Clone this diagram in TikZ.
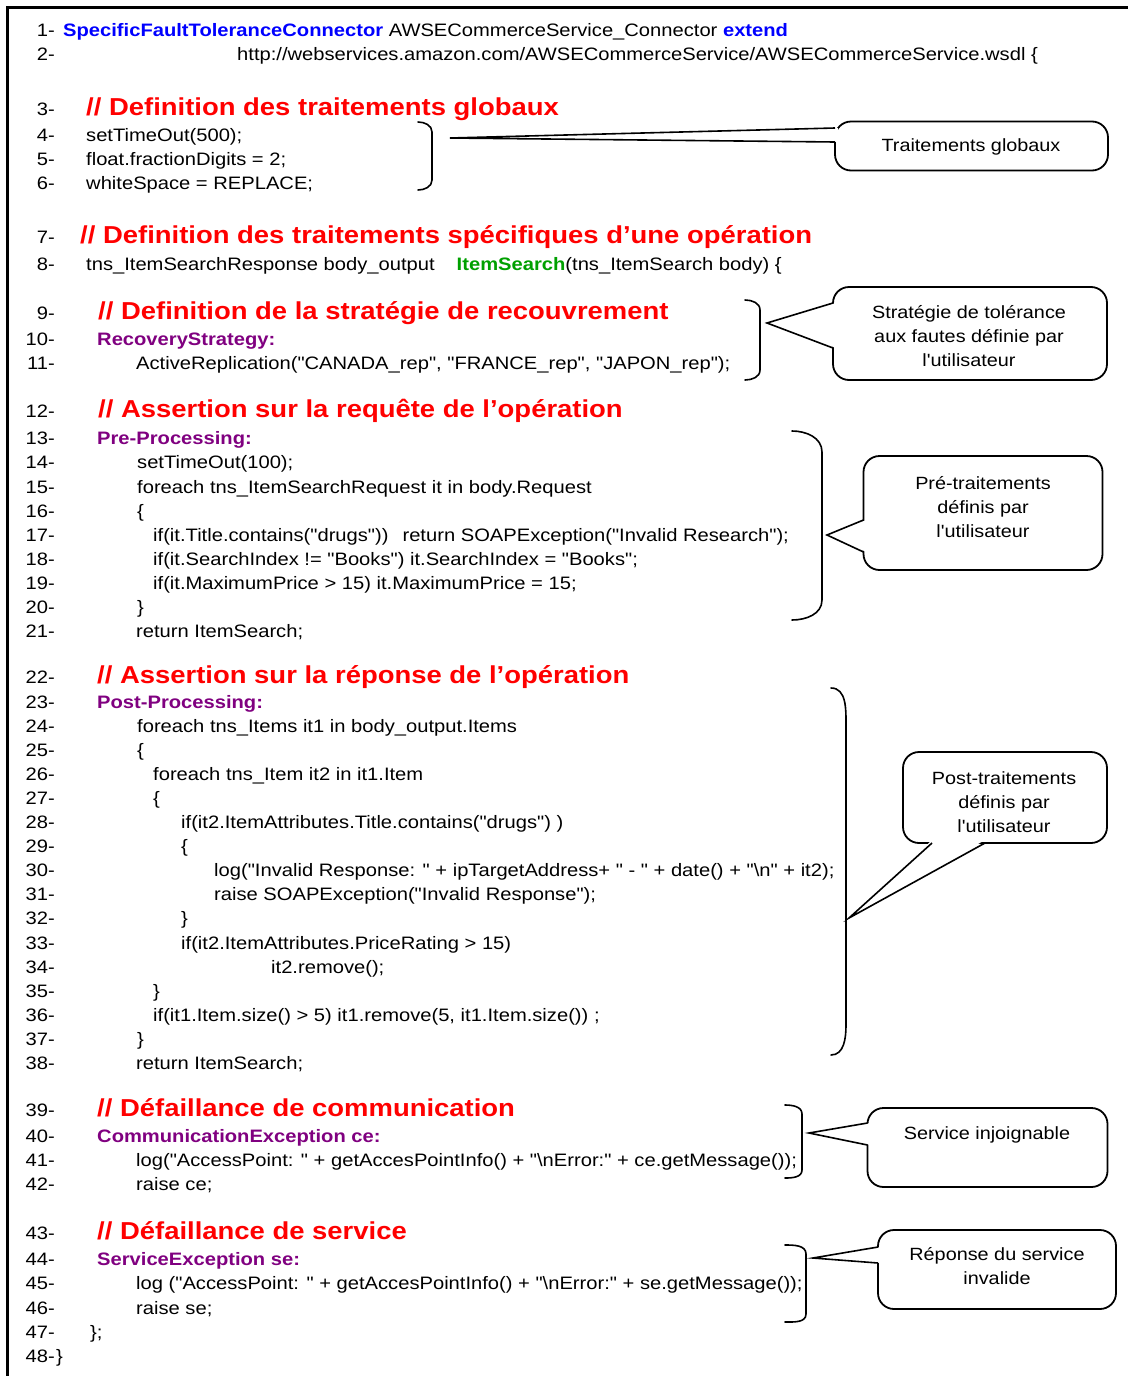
\documentclass[tikz,border=0pt]{standalone}
\usepackage{fontspec}
\setmainfont{Liberation Sans}[FakeStretch=1.12,Ligatures=TeXOff]
\definecolor{kwblue}{RGB}{0,0,255}
\definecolor{hdred}{RGB}{255,0,0}
\definecolor{kwpurple}{RGB}{128,0,128}
\definecolor{kwgreen}{RGB}{0,160,0}
\newcommand\codefont{\fontsize{18}{24}\selectfont}
\newcommand\boxfont{\fontsize{17.7}{24}\selectfont}
\newcommand\headfont{\fontsize{24.5}{30}\selectfont\bfseries}
\newcommand\kw[2]{{\bfseries\color{#1}#2}}
% numbered code line: number, baseline, x, text
\newcommand\cl[4]{\node[num] (n#1) at (55,#2) {#1-};\node[code] (c#1) at (#3,#2) {#4};}
% numbered heading comment
\newcommand\hl[4]{\node[num,yshift=-1pt] (n#1) at (55,#2) {#1-};\node[head] (c#1) at (#3,#2) {#4};}
\begin{document}
\begin{tikzpicture}[x=1pt,y=-1pt,
  num/.style={anchor=base east,inner sep=0pt,font=\codefont,yshift=-1pt},
  code/.style={anchor=base west,inner sep=0pt,font=\codefont,yshift=-1pt},
  head/.style={anchor=base west,inner sep=0pt,font=\headfont,text=hdred,yshift=-2pt},
  brk/.style={line width=1.6pt,line cap=round},
  box/.style={draw,line width=1.8pt,rounded corners=16pt,fill=white,inner sep=0pt},
  wedge/.style={line width=1.6pt,line join=miter},
  ctext/.style={font=\boxfont,align=center,inner sep=0pt}]
\useasboundingbox (0,0) rectangle (1128,1376);
\fill[white] (0,0) rectangle (1128,1376);
% frame
\draw[line width=3pt] (7,1376) -- (7,7) -- (1128,7);

% code listing
\node[num] (n1) at (55,35.3) {1-};
\node[code] (c1) at (63,35.3) {\kw{kwblue}{SpecificFaultToleranceConnector} AWSECommerceService\_Connector \kw{kwblue}{extend}};
\cl{2}{59.3}{237}{http://webservices.amazon.com/AWSECommerceService/AWSECommerceService.wsdl \{}
\hl{3}{113.3}{86}{// Definition des traitements globaux}
\cl{4}{140.3}{86}{setTimeOut(500);}
\cl{5}{164.3}{86}{float.fractionDigits = 2;}
\cl{6}{188.3}{86}{whiteSpace = REPLACE;}
\hl{7}{241.3}{80}{// Definition des traitements spécifiques d’une opération}
\cl{8}{269.3}{86}{tns\_ItemSearchResponse body\_output\hspace{22pt}\kw{kwgreen}{ItemSearch}(tns\_ItemSearch body) \{}
\hl{9}{317.3}{98}{// Definition de la stratégie de recouvrement}
\cl{10}{344.3}{97}{\kw{kwpurple}{RecoveryStrategy:}}
\cl{11}{368.3}{136}{ActiveReplication("CANADA\_rep", "FRANCE\_rep", "JAPON\_rep");}
\hl{12}{415.3}{98}{// Assertion sur la requête de l’opération}
\cl{13}{443.3}{97}{\kw{kwpurple}{Pre-Processing:}}
\cl{14}{467.3}{137}{setTimeOut(100);}
\cl{15}{492.3}{137}{foreach tns\_ItemSearchRequest it in body.Request}
\cl{16}{516.3}{137}{\{}
\cl{17}{540.3}{153}{if(it.Title.contains("drugs"))\hspace{14pt}return SOAPException("Invalid Research");}
\cl{18}{564.3}{153}{if(it.SearchIndex != "Books") it.SearchIndex = "Books";}
\cl{19}{588.3}{153}{if(it.MaximumPrice > 15) it.MaximumPrice = 15;}
\cl{20}{612.3}{137}{\}}
\cl{21}{636.3}{136}{return ItemSearch;}
\hl{22}{681.3}{97}{// Assertion sur la réponse de l’opération}
\cl{23}{707.3}{97}{\kw{kwpurple}{Post-Processing:}}
\cl{24}{731.3}{137}{foreach tns\_Items it1 in body\_output.Items}
\cl{25}{755.3}{137}{\{}
\cl{26}{779.3}{153}{foreach tns\_Item it2 in it1.Item}
\cl{27}{803.3}{153}{\{}
\cl{28}{827.3}{181}{if(it2.ItemAttributes.Title.contains("drugs") )}
\cl{29}{851.3}{181}{\{}
\cl{30}{875.3}{214}{log("Invalid Response: " + ipTargetAddress+ " - " + date() + "\textbackslash n" + it2);}
\cl{31}{899.3}{214}{raise SOAPException("Invalid Response");}
\cl{32}{923.3}{181}{\}}
\cl{33}{948.3}{181}{if(it2.ItemAttributes.PriceRating > 15)}
\cl{34}{972.3}{271}{it2.remove();}
\cl{35}{996.3}{153}{\}}
\cl{36}{1020.3}{153}{if(it1.Item.size() > 5) it1.remove(5, it1.Item.size()) ;}
\cl{37}{1044.3}{137}{\}}
\cl{38}{1068.3}{136}{return ItemSearch;}
\hl{39}{1114.3}{97}{// Défaillance de communication}
\cl{40}{1141.3}{97}{\kw{kwpurple}{CommunicationException ce:}}
\cl{41}{1165.3}{136}{log("AccessPoint: " + getAccesPointInfo() + "\textbackslash nError:" + ce.getMessage());}
\cl{42}{1189.3}{136}{raise ce;}
\hl{43}{1237.3}{97}{// Défaillance de service}
\cl{44}{1264.3}{97}{\kw{kwpurple}{ServiceException se:}}
\cl{45}{1288.3}{136}{log ("AccessPoint: " + getAccesPointInfo() + "\textbackslash nError:" + se.getMessage());}
\cl{46}{1313.3}{136}{raise se;}
\cl{47}{1337.3}{90}{\};}
\cl{48}{1361.3}{56}{\}}

% brackets grouping the annotated blocks
\draw[brk] (418,122) to[out=0,in=90] (432,132) -- (432,180) to[out=-90,in=0] (418,190);
\draw[brk] (745,300) to[out=0,in=90] (760,310) -- (760,370) to[out=-90,in=0] (745,380);
\draw[brk] (792,431) to[out=0,in=90] (822,452) -- (822,600) to[out=-90,in=0] (792,620);
\draw[brk] (831,688) to[out=0,in=90] (846,725) -- (846,1025) to[out=-90,in=0] (831,1055);
\draw[brk] (785,1105) to[out=0,in=90] (802,1114) -- (802,1170) to[out=-90,in=0] (785,1178);
\draw[brk] (785,1245) to[out=0,in=90] (806,1254) -- (806,1314) to[out=-90,in=0] (785,1322);

% callout boxes
\node[box,minimum width=273pt,minimum height=49pt] (cb1) at (971.5,146) {};
\node[box,minimum width=274pt,minimum height=93pt] (cb2) at (970,333.5) {};
\node[box,minimum width=239pt,minimum height=114pt] (cb3) at (983,513) {};
\node[box,minimum width=204pt,minimum height=91pt] (cb4) at (1005,797.5) {};
\node[box,minimum width=240pt,minimum height=79pt] (cb5) at (987.5,1147.5) {};
\node[box,minimum width=238pt,minimum height=79pt] (cb6) at (997,1269.5) {};

% pointer tips and their roots on the boxes
\coordinate (t1) at (450,138);  \coordinate (a1) at (835,128);  \coordinate (b1) at (835,142);
\coordinate (t2) at (767,323);  \coordinate (a2) at (833,303);  \coordinate (b2) at (833,348);
\coordinate (t3) at (827,535);  \coordinate (a3) at (863.5,520); \coordinate (b3) at (863.5,552);
\coordinate (t4) at (849,918);  \coordinate (a4) at (932,843);  \coordinate (b4) at (985,843);
\coordinate (t5) at (809,1133); \coordinate (a5) at (867.5,1123); \coordinate (b5) at (867.5,1145);
\coordinate (t6) at (813,1258); \coordinate (a6) at (878,1247);  \coordinate (b6) at (878,1263);

% erase the box edge between the roots, then draw the wedges
\fill[white] (t1) -- ([xshift=3pt]a1) -- ([xshift=3pt]b1) -- cycle;
\fill[white] (t2) -- ([xshift=3pt]a2) -- ([xshift=3pt]b2) -- cycle;
\fill[white] (t3) -- ([xshift=3pt]a3) -- ([xshift=3pt]b3) -- cycle;
\fill[white] (t4) -- ([yshift=3pt]a4) -- ([yshift=3pt]b4) -- cycle;
\fill[white] (t5) -- ([xshift=3pt]a5) -- ([xshift=3pt]b5) -- cycle;
\fill[white] (t6) -- ([xshift=3pt]a6) -- ([xshift=3pt]b6) -- cycle;
\draw[wedge] (a1) -- (t1) -- (b1);
\draw[wedge] (a2) -- (t2) -- (b2);
\draw[wedge] (a3) -- (t3) -- (b3);
\draw[wedge] (a4) -- (t4) -- (b4);
\draw[wedge] (a5) -- (t5) -- (b5);
\draw[wedge] (a6) -- (t6) -- (b6);

% callout texts
\node[ctext] (ct1) at (971,147) {Traitements globaux};
\node[ctext] (ct2) at (969,336) {Stratégie de tolérance\\aux fautes définie par\\l'utilisateur};
\node[ctext] (ct3) at (983,507) {Pré-traitements\\définis par\\l'utilisateur};
\node[ctext] (ct4) at (1004,802) {Post-traitements\\définis par\\l'utilisateur};
\node[ctext] (ct5) at (987,1135) {Service injoignable};
\node[ctext] (ct6) at (997,1266) {Réponse du service\\invalide};
\end{tikzpicture}
\end{document}
